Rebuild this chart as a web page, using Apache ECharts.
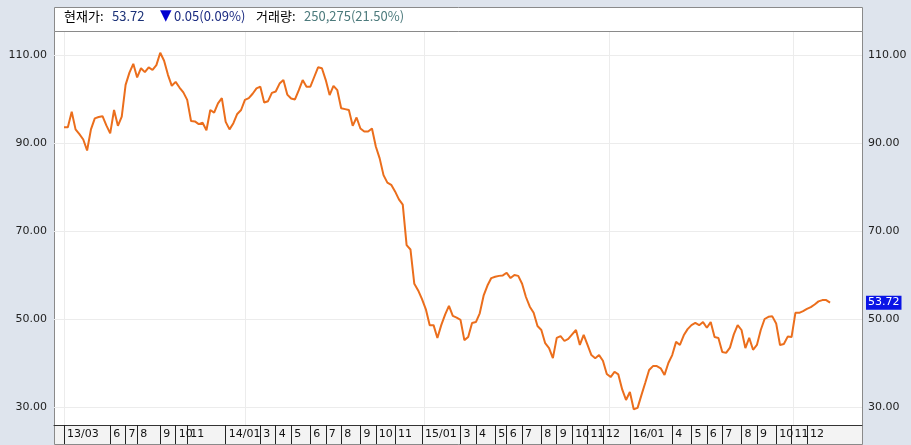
<!DOCTYPE html>
<html><head><meta charset="utf-8">
<script src="https://cdn.jsdelivr.net/npm/echarts@6/dist/echarts.min.js"></script>
<style>html,body{margin:0;padding:0;background:#dee4ed;}#c{width:911px;height:445px;}</style>
</head><body><div id="c"></div>
<script>
// weekly closing prices, 2013/03 .. 2016/12
const prices2013 = [93.6,93.6,97.1,93.1,92.0,90.8,88.3,93.1,95.6,95.9,96.1,94.0,92.2,97.5,93.9,96.0,103.2,106.0,108.0,104.9,107.0,106.1,107.2,106.6,107.7,110.5,108.7,105.5,103.0,103.9,102.6,101.5,99.8,95.0,94.9,94.3,94.6,92.9,97.5,96.9,99.0,100.2];
const prices2014 = [94.8,93.1,94.5,96.6,97.5,99.8,100.2,101.2,102.4,102.8,99.2,99.5,101.4,101.7,103.5,104.3,101.0,100.1,99.9,102.0,104.3,102.8,102.8,105.0,107.2,107.0,104.3,100.9,103.0,102.0,97.9,97.7,97.5,93.9,95.8,93.3,92.6,92.6,93.3,89.2,86.5,82.7,81.0,80.5,79.0,77.2,76.0,66.8,65.8,58.0,56.5];
const prices2015 = [54.5,52.2,48.6,48.6,45.7,48.6,51.0,53.0,50.7,50.3,49.8,45.2,45.9,49.1,49.3,51.3,55.3,57.6,59.3,59.6,59.8,59.9,60.5,59.3,60.0,59.8,58.0,55.0,52.8,51.4,48.4,47.5,44.5,43.4,41.1,45.7,46.1,45.0,45.5,46.5,47.5,44.1,46.4,44.1,41.8,41.1,41.8,40.5,37.5,36.8,38.0,37.4,34.0,31.6];
const prices2016 = [33.4,29.5,29.8,32.7,35.5,38.4,39.3,39.3,38.8,37.3,40.0,41.8,44.8,44.1,46.3,47.7,48.6,49.1,48.6,49.3,48.0,49.3,45.9,45.7,42.5,42.3,43.5,46.5,48.6,47.5,43.4,45.7,43.0,44.1,47.5,50.0,50.5,50.6,49.0,44.1,44.3,46.0,45.9,51.4,51.4,51.8,52.3,52.7,53.3,54.0,54.3,54.3,53.72];
const closePrices = prices2013.concat(prices2014, prices2015, prices2016);

// month tick positions (week index) and their labels
const monthTickIndex = [0,12,16,19,25,29,32,42,51,55,59,64,68,72,77,81,86,93,103,107,112,115,119,124,128,132,136,140,147,158,163,167,171,176,180,185,189,193];
const monthTickLabel = ['13/03','6','7','8','9','10','11','14/01','3','4','5','6','7','8','9','10','11','15/01','3','4','5','6','7','8','9','10','11','12','16/01','4','5','6','7','8','9','10','11','12'];
const yTicks = [30, 50, 70, 90, 110];
const gridWeekIndex = [0, 47, 93.5, 141.5, 189.4];

const currentPrice = '53.72';
const changeText = '0.05(0.09%)';
const volumeText = '250,275(21.50%)';

const labelMap = {};
monthTickIndex.forEach((v, i) => { labelMap[v] = monthTickLabel[i]; });
const seriesData = closePrices.map((v, i) => [i, v]);

const chart = echarts.init(document.getElementById('c'), null, {renderer: 'canvas'});
const fontAxis = '"DejaVu Sans", Verdana, sans-serif';
const fontKr = '"Noto Sans CJK KR", sans-serif';

const option = {
  backgroundColor: '#dee4ed',
  animation: false,
  grid: {left: 54, right: 49, top: 55, bottom: 38, containLabel: false},
  xAxis: {
    type: 'value', min: -2.6, max: 207.3, offset: 18,
    axisLine: {show: true, lineStyle: {color: '#333', width: 1}},
    axisTick: {show: true, customValues: monthTickIndex, length: 19, inside: false, lineStyle: {color: '#222', width: 1}},
    axisLabel: {show: true, customValues: monthTickIndex, align: 'left', margin: 4, padding: [0,0,0,3],
      fontFamily: fontAxis, fontSize: 11, color: '#111',
      formatter: v => labelMap[Math.round(v)] || ''},
    splitLine: {show: false}
  },
  yAxis: [
    {type: 'value', min: 30, max: 110, interval: 20, position: 'left',
     axisLine: {show: false}, axisTick: {show: false},
     axisLabel: {margin: 7, fontFamily: fontAxis, fontSize: 11, color: '#222', formatter: v => v.toFixed(2)},
     splitLine: {show: true, lineStyle: {color: '#ececec', width: 1}}},
    {type: 'value', min: 30, max: 110, interval: 20, position: 'right',
     axisLine: {show: false}, axisTick: {show: false},
     axisLabel: {margin: 6, fontFamily: fontAxis, fontSize: 11, color: '#222', formatter: v => v.toFixed(2)},
     splitLine: {show: false}}
  ],
  series: [{
    type: 'line', data: seriesData, xAxisIndex: 0, yAxisIndex: 0,
    showSymbol: false, clip: false, z: 5,
    lineStyle: {color: '#eb6e1c', width: 2},
    markLine: {
      silent: true, symbol: ['none','none'], animation: false,
      lineStyle: {color: 'rgba(0,0,0,0)', width: 0, type: 'solid'},
      label: {show: true, position: 'end', distance: 4, formatter: currentPrice,
              color: '#fff', backgroundColor: '#0a14e6', padding: [2,2,1,2],
              fontFamily: fontAxis, fontSize: 11},
      data: [{yAxis: closePrices[closePrices.length - 1]}]
    }
  }],
  graphic: [
    {type: 'rect', z: -10, silent: true, shape: {x: 54.5, y: 7.5, width: 808, height: 24}, style: {fill: '#fff', stroke: '#8a8a8a', lineWidth: 1}},
    {type: 'rect', z: -10, silent: true, shape: {x: 54.5, y: 31.5, width: 808, height: 394}, style: {fill: '#fff', stroke: '#8a8a8a', lineWidth: 1}},
    {type: 'rect', z: -10, silent: true, shape: {x: 54.5, y: 425.5, width: 808, height: 19}, style: {fill: '#f3f3f3', stroke: '#8a8a8a', lineWidth: 1}},
    {type: 'text', left: 64, top: 10, style: {text: '현재가:', font: '13px ' + fontKr, fill: '#000'}},
    {type: 'text', left: 112, top: 10, style: {text: currentPrice, font: '13px ' + fontKr, fill: '#1c3278'}},
    {type: 'text', left: 160, top: 9, style: {text: '▼', font: '15px ' + fontAxis, fill: '#0000d0'}},
    {type: 'text', left: 174, top: 10, style: {text: changeText, font: '13px ' + fontKr, fill: '#1a2a80'}},
    {type: 'text', left: 256, top: 10, style: {text: '거래량:', font: '13px ' + fontKr, fill: '#000'}},
    {type: 'text', left: 304, top: 10, style: {text: volumeText, font: '13px ' + fontKr, fill: '#4c7a7c'}}
  ]
};
chart.setOption(option);

// vertical grid lines through the x scale
const vLines = gridWeekIndex.map(idx => {
  const x = Math.round(chart.convertToPixel({xAxisIndex: 0}, idx)) + 0.5;
  return {type: 'line', z: -5, silent: true, shape: {x1: x, y1: 32, x2: x, y2: 425}, style: {stroke: '#ececec', lineWidth: 1}};
});
chart.setOption({graphic: option.graphic.concat(vLines)});
</script>
</body></html>
